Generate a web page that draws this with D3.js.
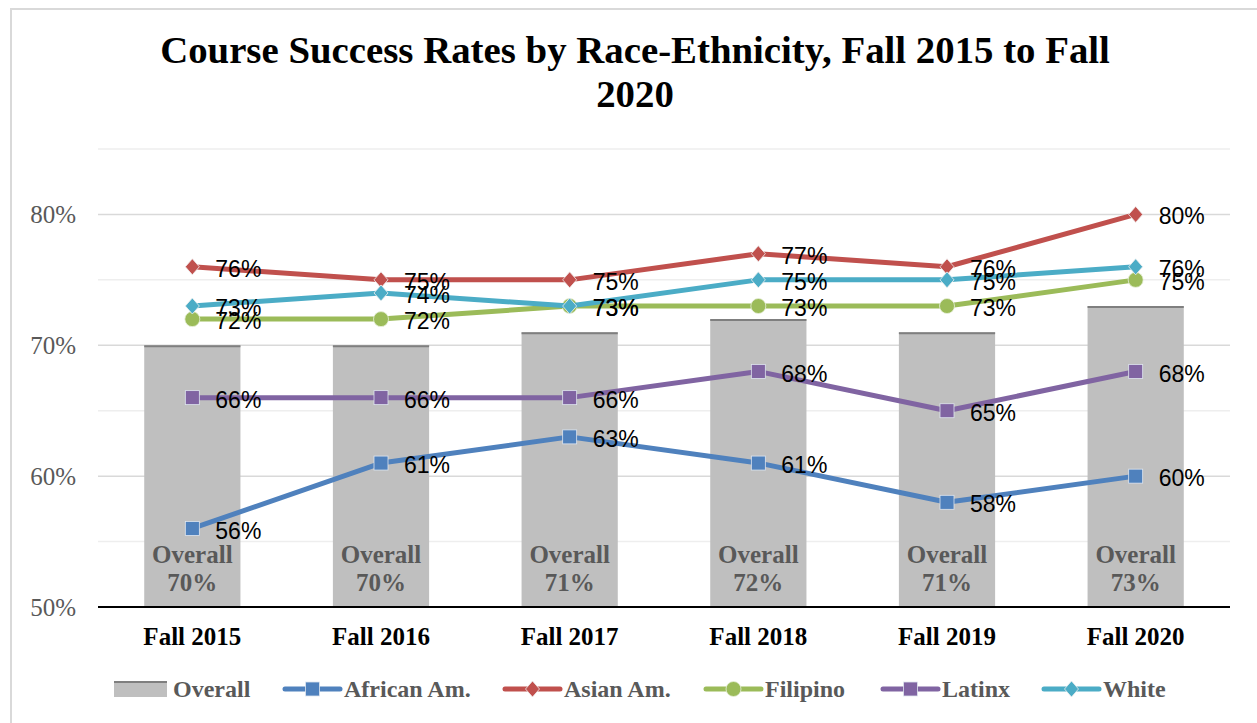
<!DOCTYPE html>
<html>
<head>
<meta charset="utf-8">
<script src="https://cdn.jsdelivr.net/npm/d3@7"></script>
<style>
  body { margin: 0; background: #fff; }
  svg { display: block; }
</style>
</head>
<body>
<script>
// data
var terms = ["Fall 2015", "Fall 2016", "Fall 2017", "Fall 2018", "Fall 2019", "Fall 2020"];
var overall = [70, 70, 71, 72, 71, 73];
var africanAm = [56, 61, 63, 61, 58, 60];
var asianAm = [76, 75, 75, 77, 76, 80];
var filipino = [72, 72, 73, 73, 73, 75];
var latinx = [66, 66, 66, 68, 65, 68];
var white = [73, 74, 73, 75, 75, 76];
var yTicks = [50, 60, 70, 80];
var yGrid = [55, 60, 65, 70, 75, 80, 85];

var series = [
  {name: "African Am.", values: africanAm, color: "#4f81bd", marker: "square"},
  {name: "Asian Am.", values: asianAm, color: "#c0504d", marker: "diamond"},
  {name: "Filipino", values: filipino, color: "#9bbb59", marker: "circle"},
  {name: "Latinx", values: latinx, color: "#8064a2", marker: "square"},
  {name: "White", values: white, color: "#4bacc6", marker: "diamond"}
];

var w = 1257, h = 723;
var serif = "'Liberation Serif', 'DejaVu Serif', serif";
var sans = "'Liberation Sans', Arial, sans-serif";

var svg = d3.select("body").append("svg").attr("width", w).attr("height", h);

// chart frame
svg.append("rect").attr("x", 11).attr("y", 9).attr("width", w + 10).attr("height", h + 10)
  .attr("fill", "#fff").attr("stroke", "#d9d9d9").attr("stroke-width", 2);

var x = d3.scaleBand().domain(terms).range([98, 1230]);
var y = d3.scaleLinear().domain([50, 85]).range([607, 149]);
function cx(i) { return x(terms[i]) + x.bandwidth() / 2; }

// title, sized to fit the reference width
var title = svg.append("text").attr("text-anchor", "middle")
  .attr("font-family", serif).attr("font-weight", "bold").attr("fill", "#000");
title.append("tspan").attr("x", 635).attr("y", 63).text("Course Success Rates by Race-Ethnicity, Fall 2015 to Fall");
title.append("tspan").attr("x", 635).attr("y", 107).text("2020");
title.attr("font-size", 34);
var tw = title.select("tspan").node().getComputedTextLength();
title.attr("font-size", 34 * 950 / tw);

// gridlines
svg.append("g").selectAll("line").data(yGrid).enter().append("line")
  .attr("x1", 98).attr("x2", 1230)
  .attr("y1", function(d) { return y(d); }).attr("y2", function(d) { return y(d); })
  .attr("stroke", function(d) { return d % 10 == 0 ? "#d9d9d9" : "#eeeeee"; })
  .attr("stroke-width", 1.5);

// y tick labels
svg.append("g").selectAll("text").data(yTicks).enter().append("text")
  .attr("x", 76).attr("y", function(d) { return y(d); }).attr("dy", "0.35em")
  .attr("text-anchor", "end").attr("font-family", serif).attr("font-size", 25)
  .attr("fill", "#595959").text(function(d) { return d + "%"; });

// bars
var bw = x.bandwidth() * 0.51;
var bars = svg.append("g").selectAll("g").data(overall).enter().append("g");
bars.append("rect")
  .attr("x", function(d, i) { return cx(i) - bw / 2; })
  .attr("y", function(d) { return y(d); })
  .attr("width", bw).attr("height", function(d) { return y(50) - y(d); })
  .attr("fill", "#bfbfbf");
bars.append("line")
  .attr("x1", function(d, i) { return cx(i) - bw / 2; })
  .attr("x2", function(d, i) { return cx(i) + bw / 2; })
  .attr("y1", function(d) { return y(d) + 1; }).attr("y2", function(d) { return y(d) + 1; })
  .attr("stroke", "#7f7f7f").attr("stroke-width", 2);
bars.append("text").attr("x", function(d, i) { return cx(i); }).attr("y", 563)
  .attr("text-anchor", "middle").attr("font-family", serif).attr("font-weight", "bold")
  .attr("font-size", 25).attr("fill", "#595959").text("Overall");
bars.append("text").attr("x", function(d, i) { return cx(i); }).attr("y", 591)
  .attr("text-anchor", "middle").attr("font-family", serif).attr("font-weight", "bold")
  .attr("font-size", 25).attr("fill", "#595959").text(function(d) { return d + "%"; });

// x axis
svg.append("line").attr("x1", 98).attr("x2", 1230).attr("y1", 607).attr("y2", 607)
  .attr("stroke", "#000").attr("stroke-width", 2);
svg.append("g").selectAll("text").data(terms).enter().append("text")
  .attr("x", function(d, i) { return cx(i); }).attr("y", 645)
  .attr("text-anchor", "middle").attr("font-family", serif).attr("font-weight", "bold")
  .attr("font-size", 25).attr("fill", "#000").text(function(d) { return d; });

function drawMarker(g, type, color) {
  if (type == "square") {
    g.append("rect").attr("x", -7).attr("y", -7).attr("width", 14).attr("height", 14)
      .attr("fill", color).attr("stroke", "#dfe6f0").attr("stroke-width", 0.8);
  } else if (type == "diamond") {
    g.append("path").attr("d", "M0,-8L7,0L0,8L-7,0Z")
      .attr("fill", color).attr("stroke", "#f0f0f0").attr("stroke-width", 0.8);
  } else {
    g.append("circle").attr("r", 7.5).attr("fill", color)
      .attr("stroke", "#e8f0dc").attr("stroke-width", 0.8);
  }
}

// lines
var line = d3.line().x(function(d, i) { return cx(i); }).y(function(d) { return y(d); });
series.forEach(function(s) {
  var g = svg.append("g");
  g.append("path").datum(s.values).attr("d", line).attr("fill", "none")
    .attr("stroke", s.color).attr("stroke-width", 5).attr("stroke-linejoin", "round")
    .attr("stroke-linecap", "round");
  s.values.forEach(function(v, i) {
    var m = g.append("g").attr("transform", "translate(" + cx(i) + "," + y(v) + ")");
    drawMarker(m, s.marker, s.color);
  });
});

// data labels
series.forEach(function(s) {
  svg.append("g").selectAll("text").data(s.values).enter().append("text")
    .attr("x", function(d, i) { return cx(i) + 23; })
    .attr("y", function(d) { return y(d) + 2; }).attr("dy", "0.35em")
    .attr("font-family", sans).attr("font-size", 23).attr("fill", "#000")
    .text(function(d) { return d + "%"; });
});

// legend
var legendX = [114, 285, 505, 706, 883, 1044];
var legendItems = [{name: "Overall", bar: true}].concat(series);
var ly = 689;
legendItems.forEach(function(it, i) {
  var lx = legendX[i];
  var g = svg.append("g");
  if (it.bar) {
    g.append("rect").attr("x", lx).attr("y", ly - 8).attr("width", 53).attr("height", 16)
      .attr("fill", "#bfbfbf");
    g.append("line").attr("x1", lx).attr("x2", lx + 53).attr("y1", ly - 7).attr("y2", ly - 7)
      .attr("stroke", "#7f7f7f").attr("stroke-width", 2);
  } else {
    g.append("line").attr("x1", lx).attr("x2", lx + 55).attr("y1", ly).attr("y2", ly)
      .attr("stroke", it.color).attr("stroke-width", 5).attr("stroke-linecap", "round");
    var m = g.append("g").attr("transform", "translate(" + (lx + 27.5) + "," + ly + ")");
    drawMarker(m, it.marker, it.color);
  }
  g.append("text").attr("x", lx + 59).attr("y", ly).attr("dy", "0.35em")
    .attr("font-family", serif).attr("font-weight", "bold").attr("font-size", 24)
    .attr("fill", "#595959").text(it.name);
});
</script>
</body>
</html>
